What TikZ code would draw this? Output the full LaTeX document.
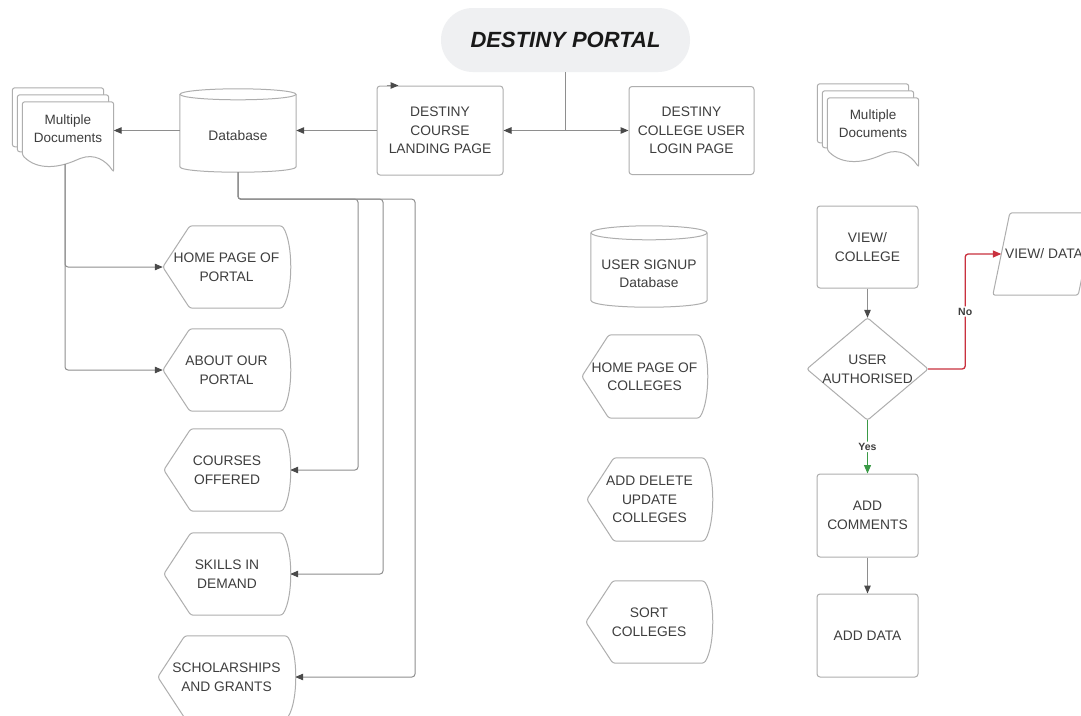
\documentclass[tikz,border=0pt]{standalone}
\usepackage{fontspec}
\setmainfont{Liberation Sans}
\usetikzlibrary{arrows.meta,calc,backgrounds}
\definecolor{linegray}{HTML}{8E8E8E}
\definecolor{tipgray}{HTML}{4A4A4A}
\definecolor{boxgray}{HTML}{AEAEAE}
\definecolor{txtgray}{HTML}{3E3E3E}
\definecolor{portalfill}{HTML}{EFF0F2}
\definecolor{noRed}{HTML}{C9303E}
\definecolor{yesGreen}{HTML}{3A9A46}

\newcommand\dispoutline[1]{%
  \draw[outl] (#1.west) -- ($(#1.north west)+(27,0)$) -- ($(#1.north east)+(-8,0)$)
    .. controls ($(#1.north east)+(3,18)$) and ($(#1.south east)+(3,-18)$) .. ($(#1.south east)+(-8,0)$)
    -- ($(#1.south west)+(27,0)$) -- cycle;}
\newcommand\cyloutline[3]{%
  \draw[outl, sharp corners] ($(#1.north west)+(0,-#2)$) -- ($(#1.south west)+(0,-#2)$)
    .. controls ($(#1.south west)+(0,0.333*#2)$) and ($(#1.south east)+(0,0.333*#2)$) .. ($(#1.south east)+(0,-#2)$)
    -- ($(#1.north east)+(0,-#2)$);
  \draw[outl] ($(#1.north)+(0,-#2)$) ellipse [x radius=#3, y radius=#2];}
\newcommand\mdocs[1]{%
  \draw[outl, fill=white] ($(#1.north west)+(-10,-14)$) rectangle ($(#1.north east)+(-10,45)$);
  \draw[outl, fill=white] ($(#1.north west)+(-5,-7)$) rectangle ($(#1.north east)+(-5,50)$);
  \draw[outl, fill=white] (#1.south west) -- (#1.north west) -- (#1.north east) -- ($(#1.south east)+(0,17)$)
    .. controls ($(#1.south east)+(-8,5)$) and ($(#1.south west)+(72,-2)$) .. ($(#1.south west)+(56,4)$)
    .. controls ($(#1.south west)+(38,12)$) and ($(#1.south west)+(16,16)$) .. (#1.south west) -- cycle;}

\tikzset{
  lbl/.style={font=\fontsize{13.8}{18.5}\selectfont, text=txtgray, align=center, inner sep=0pt},
  box/.style={lbl, draw=boxgray, line width=1pt, rounded corners=3pt},
  outl/.style={draw=boxgray, line width=1pt, rounded corners=2.5pt},
  conn/.style={draw=linegray, line width=1pt, rounded corners=3pt},
  arr/.style={conn, -{Triangle[length=8pt, width=6.5pt, color=tipgray]}},
  redarr/.style={conn, draw=noRed, line width=1.3pt, -{Triangle[length=8.5pt, width=7pt, color=noRed]}},
  greenarr/.style={conn, draw=yesGreen, line width=1.3pt, -{Triangle[length=8.5pt, width=7pt, color=yesGreen]}},
  yn/.style={font=\fontsize{10.5}{12}\selectfont\bfseries, text=txtgray, fill=white, inner sep=1.5pt},
}

\begin{document}
\begin{tikzpicture}[x=1pt, y=-1pt]
\useasboundingbox (0,0) rectangle (1081,715);

% title
\node[fill=portalfill, rounded corners=31.9pt, minimum width=249pt, minimum height=64pt, inner sep=0pt,
      font=\fontsize{22}{26}\selectfont\bfseries\itshape, text=black!90] (portal) at (565.5,40) {DESTINY PORTAL};

% top row
\node[box, minimum width=126pt, minimum height=89pt] (course) at (440,130.5) {DESTINY\\COURSE\\LANDING PAGE};
\node[box, minimum width=125pt, minimum height=88pt] (login) at (691.5,130.5) {DESTINY\\COLLEGE USER\\LOGIN PAGE};
\node[lbl, minimum width=116pt, minimum height=72pt] (db) at (238,136) {Database};
\node[lbl, font=\fontsize{13.5}{18}\selectfont, minimum width=91pt, minimum height=53pt] (md1) at (68,128.5) {Multiple\\Documents};
\node[lbl, font=\fontsize{13.5}{18}\selectfont, minimum width=91pt, minimum height=52pt] (md2) at (873,124) {Multiple\\Documents};

% left column
\node[lbl, minimum width=127pt, minimum height=82pt] (home) at (226.5,267) {HOME PAGE OF\\PORTAL};
\node[lbl, minimum width=127pt, minimum height=82pt] (about) at (226.5,370) {ABOUT OUR\\PORTAL};
\node[lbl, minimum width=126pt, minimum height=82pt] (courses) at (227,470) {COURSES\\OFFERED};
\node[lbl, minimum width=126pt, minimum height=82pt] (skills) at (227,574) {SKILLS IN\\DEMAND};
\node[lbl, minimum width=137pt, minimum height=82pt] (schol) at (226.5,677) {SCHOLARSHIPS\\AND GRANTS};

% middle column
\node[lbl, minimum width=116pt, minimum height=67pt] (signup) at (649,273.5) {USER SIGNUP\\Database};
\node[lbl, minimum width=125pt, minimum height=83pt] (homecol) at (644.5,376.5) {HOME PAGE OF\\COLLEGES};
\node[lbl, minimum width=125pt, minimum height=83pt] (adu) at (649.5,499.5) {ADD DELETE\\UPDATE\\COLLEGES};
\node[lbl, minimum width=126pt, minimum height=82pt] (sort) at (649,622) {SORT\\COLLEGES};

% right column
\node[box, minimum width=101pt, minimum height=82pt] (viewcol) at (867.5,247) {VIEW/\\COLLEGE};
\node[lbl, minimum width=121pt, minimum height=102pt] (dia) at (867.5,369) {USER\\AUTHORISED};
\node[box, minimum width=101pt, minimum height=83pt] (addcom) at (867.5,515.5) {ADD\\COMMENTS};
\node[box, minimum width=101pt, minimum height=83pt] (adddata) at (867.5,635.5) {ADD DATA};
\node[lbl, minimum width=102pt, minimum height=82pt] (vd) at (1044,254) {VIEW/ DATA};
\coordinate (vdin) at ($(vd.west)+(8.5,0)$);

\begin{pgfonlayer}{background}
  \fill[white] (0,0) rectangle (1081,715);
  \cyloutline{db}{5.5}{58}
  \cyloutline{signup}{7}{58}
  \mdocs{md1}
  \mdocs{md2}
  \dispoutline{home}
  \dispoutline{about}
  \dispoutline{courses}
  \dispoutline{skills}
  \dispoutline{schol}
  \dispoutline{homecol}
  \dispoutline{adu}
  \dispoutline{sort}
  \draw[outl] (dia.north) -- (dia.east) -- (dia.south) -- (dia.west) -- cycle;
  \draw[outl] (vd.south west) -- ($(vd.north west)+(17,0)$) -- (vd.north east) -- ($(vd.south east)+(-17,0)$) -- cycle;
\end{pgfonlayer}

% connectors top
\draw[conn] (portal.south) -- (portal.south |- course.east);
\draw[arr] (portal.south |- course.east) -- (course.east);
\draw[arr] (portal.south |- login.west) -- (login.west);
\draw[arr] (course.west) -- (course.west -| db.east);
\draw[arr] (course.west -| db.west) -- (course.west -| md1.east);
\draw[arr] ($(course.north west)+(10,0)$) -- ($(course.north west)+(22,0)$);

% documents to pages
\draw[arr] ($(md1.south)+(-3,9)$) |- (home.west);
\draw[arr] ($(md1.south)+(-3,9)$) |- (about.west);

% database bus
\draw[arr] (db.south) -- ++(0,27) -- ++(120,0) |- (courses.east);
\draw[arr] (db.south) -- ++(0,27) -- ++(145,0) |- (skills.east);
\draw[arr] (db.south) -- ++(0,27) -- ++(177,0) |- (schol.east);

% right flow
\draw[arr] (viewcol.south) -- (dia.north);
\draw[greenarr] (dia.south) -- node[yn]{Yes} (addcom.north);
\draw[redarr] (dia.east) -- ($(dia.east)+(37,0)$) -- node[yn]{No} ($(dia.east |- vdin)+(37,0)$) -- (vdin);
\draw[arr] (addcom.south) -- (adddata.north);
\end{tikzpicture}
\end{document}
